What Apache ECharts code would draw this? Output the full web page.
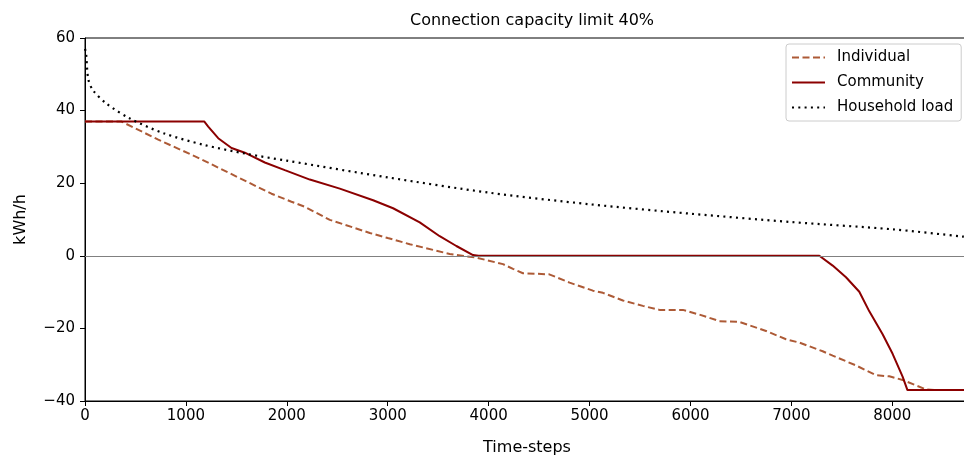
<!DOCTYPE html>
<html>
<head>
<meta charset="utf-8">
<script src="https://cdn.jsdelivr.net/npm/echarts@6/dist/echarts.min.js"></script>
<style>
  html, body { margin: 0; padding: 0; background: #fff; overflow: hidden; }
  /* plot runs a few pixels past the right edge, like the original */
  #chart { width: 970px; height: 461px; }
</style>
</head>
<body>
<div id="chart"></div>
<script>
// series names
var seriesNames = ['Individual', 'Community', 'Household load']

// [time-step, kWh/h]
var individual = [
  [0, 37], [360, 37], [726, 32.0], [1122, 27.0], [1518, 21.6], [1848, 17.1],
  [2046, 14.9], [2178, 13.5], [2426, 9.9], [2822, 6.3], [3000, 4.9], [3218, 3.2],
  [3614, 0.5], [3878, -0.5], [4142, -2.3], [4241, -3.6], [4340, -4.8], [4600, -5.1],
  [4802, -7.4], [5033, -9.6], [5132, -10.2], [5330, -12.3], [5528, -13.8], [5693, -14.9],
  [5924, -14.9], [6089, -16.2], [6287, -18.0], [6485, -18.2], [6749, -20.7], [6947, -23.0],
  [7079, -23.9], [7310, -26.3], [7409, -27.5], [7640, -30.2], [7838, -32.9], [7970, -33.2],
  [8102, -34.2], [8333, -36.8], [8450, -37], [8760, -37]
]
var community = [
  [0, 37], [1181, 37], [1221, 35.6], [1320, 32.4], [1452, 29.7], [1584, 28.4],
  [1782, 25.7], [1980, 23.6], [2228, 21.0], [2525, 18.5], [2855, 15.3], [3053, 13.1],
  [3317, 9.2], [3515, 5.4], [3680, 2.7], [3845, 0.2], [3900, 0], [7277, 0],
  [7409, -2.7], [7541, -5.9], [7673, -9.9], [7772, -15.3], [7904, -21.6], [8003, -27.0],
  [8102, -33.3], [8150, -37], [8760, -37]
]
var household = [
  [0, 57], [10, 55.9], [33, 48.6], [82, 45.5], [215, 41.9], [446, 37.8], [775, 33.8],
  [1171, 30.6], [1600, 28.1], [2000, 26.2], [3000, 21.6], [4000, 17.4], [5000, 14.2],
  [6000, 11.6], [7000, 9.3], [8000, 7.3], [8700, 5.3], [8760, 5.1]
]

var chart = echarts.init(document.getElementById('chart'))
var font = 'DejaVu Sans'
var minus = function (v) { return String(v).replace('-', '\u2212') }

var option = {
  animation: false,
  backgroundColor: '#fff',
  textStyle: { fontFamily: font },
  title: {
    text: 'Connection capacity limit 40%',
    left: 527,
    textAlign: 'center',
    top: 8,
    textStyle: { fontFamily: font, fontSize: 16, fontWeight: 'normal', color: '#000' }
  },
  grid: {
    left: 85, right: 1, top: 38, bottom: 53,
    show: true, borderColor: '#000', borderWidth: 1
  },
  legend: {
    data: seriesNames,
    orient: 'vertical',
    left: 786,
    top: 44,
    padding: [6, 8, 6, 5],
    itemWidth: 33,
    itemHeight: 14,
    itemGap: 10,
    itemStyle: { opacity: 0 },
    backgroundColor: '#fff',
    borderColor: '#ccc',
    borderWidth: 1,
    borderRadius: 3,
    textStyle: { fontFamily: font, fontSize: 15, color: '#000', padding: [0, 0, 0, 7] }
  },
  xAxis: {
    type: 'value',
    min: 0,
    max: 8760,
    interval: 1000,
    name: 'Time-steps',
    nameLocation: 'middle',
    nameGap: 39,
    nameTextStyle: { fontFamily: font, fontSize: 16, color: '#000' },
    axisLine: { show: true, onZero: false, lineStyle: { color: '#000', width: 1 } },
    axisTick: { length: 5, lineStyle: { color: '#000' } },
    axisLabel: {
      fontFamily: font, fontSize: 15, color: '#000', margin: 8,
      showMaxLabel: false, formatter: function (v) { return String(v) }
    },
    splitLine: { show: false }
  },
  yAxis: {
    type: 'value',
    min: -40,
    max: 60,
    interval: 20,
    name: 'kWh/h',
    nameLocation: 'middle',
    nameGap: 56,
    nameTextStyle: { fontFamily: font, fontSize: 16, color: '#000' },
    axisLine: { onZero: false, lineStyle: { color: '#000', width: 1 } },
    axisTick: { length: 5, lineStyle: { color: '#000' } },
    axisLabel: { fontFamily: font, fontSize: 15, color: '#000', margin: 10, formatter: minus },
    splitLine: { show: false }
  },
  series: [
    {
      // zero reference line
      type: 'line',
      data: [],
      z: 1,
      markLine: {
        silent: true,
        symbol: 'none',
        label: { show: false },
        lineStyle: { color: '#808080', width: 1.2, type: 'solid' },
        data: [{ yAxis: 0 }]
      }
    },
    {
      name: seriesNames[0],
      type: 'line',
      data: individual,
      showSymbol: false,
      z: 3,
      itemStyle: { color: '#ad5a36' },
      lineStyle: { color: '#ad5a36', width: 2, type: [7, 3.5] }
    },
    {
      name: seriesNames[1],
      type: 'line',
      data: community,
      showSymbol: false,
      z: 4,
      itemStyle: { color: '#8b0000' },
      lineStyle: { color: '#8b0000', width: 2 }
    },
    {
      name: seriesNames[2],
      type: 'line',
      data: household,
      showSymbol: false,
      smooth: 0.3,
      z: 5,
      itemStyle: { color: '#000' },
      lineStyle: { color: '#000', width: 2.2, type: [2, 4.3] }
    }
  ]
}
chart.setOption(option)
</script>
</body>
</html>
